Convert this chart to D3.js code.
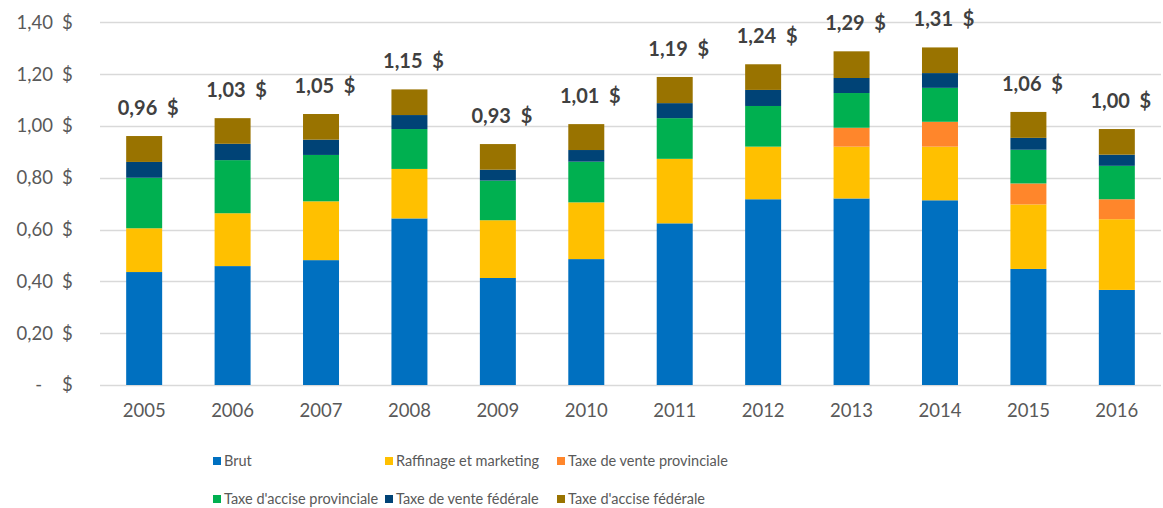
<!DOCTYPE html>
<html>
<head>
<meta charset="utf-8">
<script src="https://cdn.jsdelivr.net/npm/d3@7"></script>
<style>
  body { margin: 0; background: #fff; }
  svg { display: block; font-family: Lato, "Open Sans", sans-serif; }
</style>
</head>
<body>
<svg id="chart"></svg>
<script>
// years on the x axis
const years = ["2005", "2006", "2007", "2008", "2009", "2010", "2011", "2012", "2013", "2014", "2015", "2016"];

// price components, $ per litre
const brut        = [0.436, 0.459, 0.482, 0.643, 0.413, 0.486, 0.624, 0.717, 0.720, 0.713, 0.448, 0.367];
const raffinage   = [0.169, 0.204, 0.227, 0.191, 0.223, 0.219, 0.249, 0.203, 0.200, 0.207, 0.249, 0.273];
const venteProv   = [0, 0, 0, 0, 0, 0, 0, 0, 0.073, 0.096, 0.081, 0.077];
const acciseProv  = [0.195, 0.205, 0.179, 0.154, 0.153, 0.157, 0.157, 0.157, 0.134, 0.131, 0.130, 0.129];
const venteFed    = [0.061, 0.063, 0.059, 0.054, 0.042, 0.045, 0.058, 0.062, 0.058, 0.057, 0.046, 0.043];
const acciseFed   = [0.100, 0.099, 0.099, 0.099, 0.099, 0.100, 0.101, 0.099, 0.103, 0.099, 0.100, 0.099];

// totals shown above each bar
const totalLabels = ["0,96", "1,03", "1,05", "1,15", "0,93", "1,01", "1,19", "1,24", "1,29", "1,31", "1,06", "1,00"];

const seriesNames = ["Brut", "Raffinage et marketing", "Taxe de vente provinciale",
                     "Taxe d'accise provinciale", "Taxe de vente fédérale", "Taxe d'accise fédérale"];
const seriesValues = [brut, raffinage, venteProv, acciseProv, venteFed, acciseFed];
const colors = ["#0070C0", "#FFC000", "#FF862B", "#00B050", "#004376", "#997300"];

const yTicks = [0, 0.2, 0.4, 0.6, 0.8, 1.0, 1.2, 1.4];

const W = 1163, H = 508;
const svg = d3.select("#chart").attr("width", W).attr("height", H);

const keys = seriesNames;
const rows = years.map((yr, i) => {
  const r = { year: yr };
  keys.forEach((k, j) => r[k] = seriesValues[j][i]);
  return r;
});
const stacked = d3.stack().keys(keys)(rows);

const x = d3.scaleBand().domain(years).range([100, 1161]).paddingInner(0.593).paddingOuter(0.296);
const y = d3.scaleLinear().domain([0, 1.4]).range([385, 22.3]);

// gridlines
svg.append("g")
  .selectAll("line")
  .data(yTicks)
  .join("line")
  .attr("x1", 100)
  .attr("x2", 1161)
  .attr("y1", d => Math.round(y(d)) + 0.5)
  .attr("y2", d => Math.round(y(d)) + 0.5)
  .attr("stroke", "#d9d9d9")
  .attr("stroke-width", 1.5);

// y labels, accounting style: number right-aligned, $ at the end
const fmt = d => d === 0 ? "-" : d.toFixed(2).replace(".", ",");
const yl = svg.append("g").attr("fill", "#595959").attr("font-size", "18.5px");
yl.selectAll("text.num")
  .data(yTicks)
  .join("text")
  .attr("class", "num")
  .attr("x", d => d === 0 ? 42 : 53)
  .attr("y", d => y(d))
  .attr("dy", "0.35em")
  .attr("text-anchor", "end")
  .text(fmt);
yl.selectAll("text.cur")
  .data(yTicks)
  .join("text")
  .attr("class", "cur")
  .attr("x", 62)
  .attr("y", d => y(d))
  .attr("dy", "0.35em")
  .text("$");

// bars
svg.append("g")
  .selectAll("g")
  .data(stacked)
  .join("g")
  .attr("fill", (d, i) => colors[i])
  .selectAll("rect")
  .data(d => d)
  .join("rect")
  .attr("x", d => x(d.data.year))
  .attr("width", x.bandwidth())
  .attr("y", d => y(d[1]))
  .attr("height", d => y(d[0]) - y(d[1]));

// total labels
const topLayer = stacked[stacked.length - 1];
svg.append("g")
  .selectAll("text")
  .data(topLayer)
  .join("text")
  .attr("x", d => x(d.data.year) + x.bandwidth() / 2 + 4)
  .attr("y", d => y(d[1]) - 28)
  .attr("dy", "0.35em")
  .attr("text-anchor", "middle")
  .attr("font-size", "20px")
  .attr("font-weight", "bold")
  .attr("fill", "#404040")
  .text((d, i) => totalLabels[i] + "\u00a0\u00a0$");

// x labels
svg.append("g")
  .selectAll("text")
  .data(years)
  .join("text")
  .attr("x", d => x(d) + x.bandwidth() / 2)
  .attr("y", 411)
  .attr("dy", "0.35em")
  .attr("text-anchor", "middle")
  .attr("font-size", "18.5px")
  .attr("fill", "#595959")
  .text(d => d);

// legend, two rows of three
const legendX = [213, 385, 557];
const legendY = [461, 499];
const leg = svg.append("g")
  .selectAll("g")
  .data(seriesNames)
  .join("g")
  .attr("transform", (d, i) => `translate(${legendX[i % 3]},${legendY[Math.floor(i / 3)]})`);
leg.append("rect")
  .attr("x", 0)
  .attr("y", -4)
  .attr("width", 8)
  .attr("height", 8)
  .attr("fill", (d, i) => colors[i]);
leg.append("text")
  .attr("x", 11)
  .attr("y", 0)
  .attr("dy", "0.35em")
  .attr("font-size", "14.5px")
  .attr("fill", "#595959")
  .text(d => d);
</script>
</body>
</html>
